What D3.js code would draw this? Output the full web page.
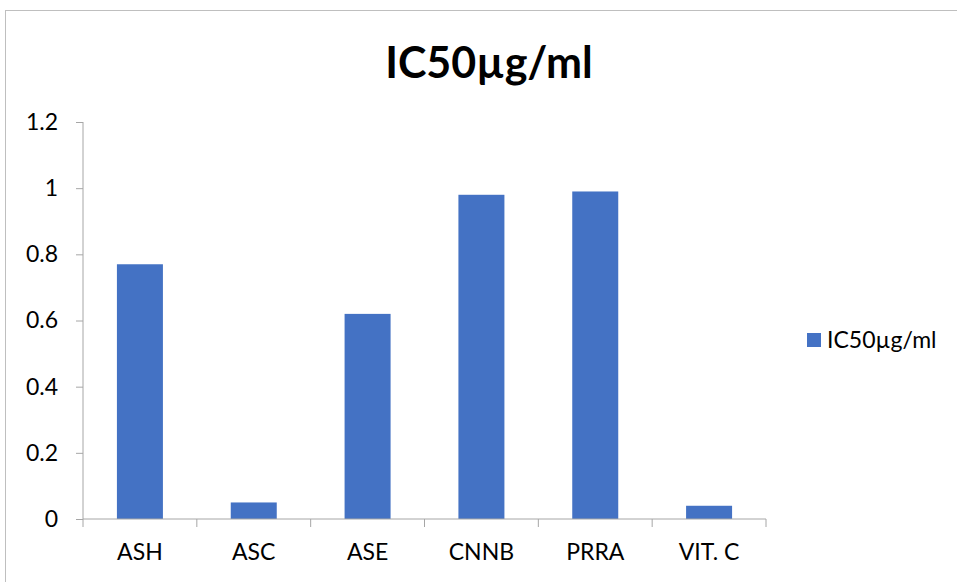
<!DOCTYPE html>
<html><head><meta charset="utf-8">
<script src="https://cdn.jsdelivr.net/npm/d3@7"></script>
<style>body{margin:0;background:#fff}svg{display:block}</style>
</head><body>
<script>
const categories = ["ASH","ASC","ASE","CNNB","PRRA","VIT. C"];
const values = [0.77,0.05,0.62,0.98,0.99,0.04];
const yTicks = [0,0.2,0.4,0.6,0.8,1,1.2];
const tickLabels = ["0","0.2","0.4","0.6","0.8","1","1.2"];
const seriesName = "IC50µg/ml";
const title = "IC50µg/ml";

const W=957,H=582;
const svg=d3.select("body").append("svg").attr("width",W).attr("height",H);
const font="Lato, 'Open Sans', sans-serif";
svg.append("rect").attr("x",5.5).attr("y",10.5).attr("width",W).attr("height",H).attr("fill","#fff").attr("stroke","#bfbfbf");

const pL=83,pR=766,pT=122,pB=519;
const x=d3.scaleBand().domain(categories).range([pL,pR]).paddingInner(0).paddingOuter(0);
const y=d3.scaleLinear().domain([0,1.2]).range([pB,pT]);

svg.append("text").attr("x",489).attr("y",78).attr("text-anchor","middle")
  .attr("font-family",font).attr("font-weight","bold").attr("font-size",43).attr("fill","#000").text(title);

const yAxis=d3.axisLeft(y).tickValues(yTicks).tickFormat((d,i)=>tickLabels[i]).tickSize(7).tickPadding(18);
const ga=svg.append("g").attr("transform",`translate(${pL},0)`).call(yAxis);
ga.selectAll("path,line").attr("stroke","#a6a6a6");
ga.select(".domain").attr("d",`M0,${pT}V${pB}`);
ga.selectAll("text").attr("font-family",font).attr("font-size",23).attr("fill","#000");

svg.append("g").selectAll("rect").data(values).join("rect")
  .attr("x",(d,i)=>x(categories[i])+x.bandwidth()/2-23)
  .attr("width",46)
  .attr("y",d=>y(d)).attr("height",d=>pB-y(d))
  .attr("fill","#4472c4");

const xAxis=d3.axisBottom(x).tickSize(0).tickPadding(25);
const gx=svg.append("g").attr("transform",`translate(0,${pB})`).call(xAxis);
gx.select(".domain").attr("stroke","#a6a6a6").attr("d",`M${pL},0H${pR}`);
gx.selectAll("text").attr("font-family",font).attr("font-size",23).attr("fill","#000");
const bounds=categories.map(c=>x(c)).concat([pR]);
gx.selectAll(".bt").data(bounds).join("line").attr("class","bt")
  .attr("x1",d=>d).attr("x2",d=>d).attr("y1",0).attr("y2",8).attr("stroke","#a6a6a6");

const lg=svg.append("g");
lg.append("rect").attr("x",807).attr("y",333).attr("width",14).attr("height",14).attr("fill","#4472c4");
lg.append("text").attr("x",827).attr("y",348).attr("font-family",font).attr("font-size",23).attr("fill","#000").text(seriesName);
</script>
</body></html>
